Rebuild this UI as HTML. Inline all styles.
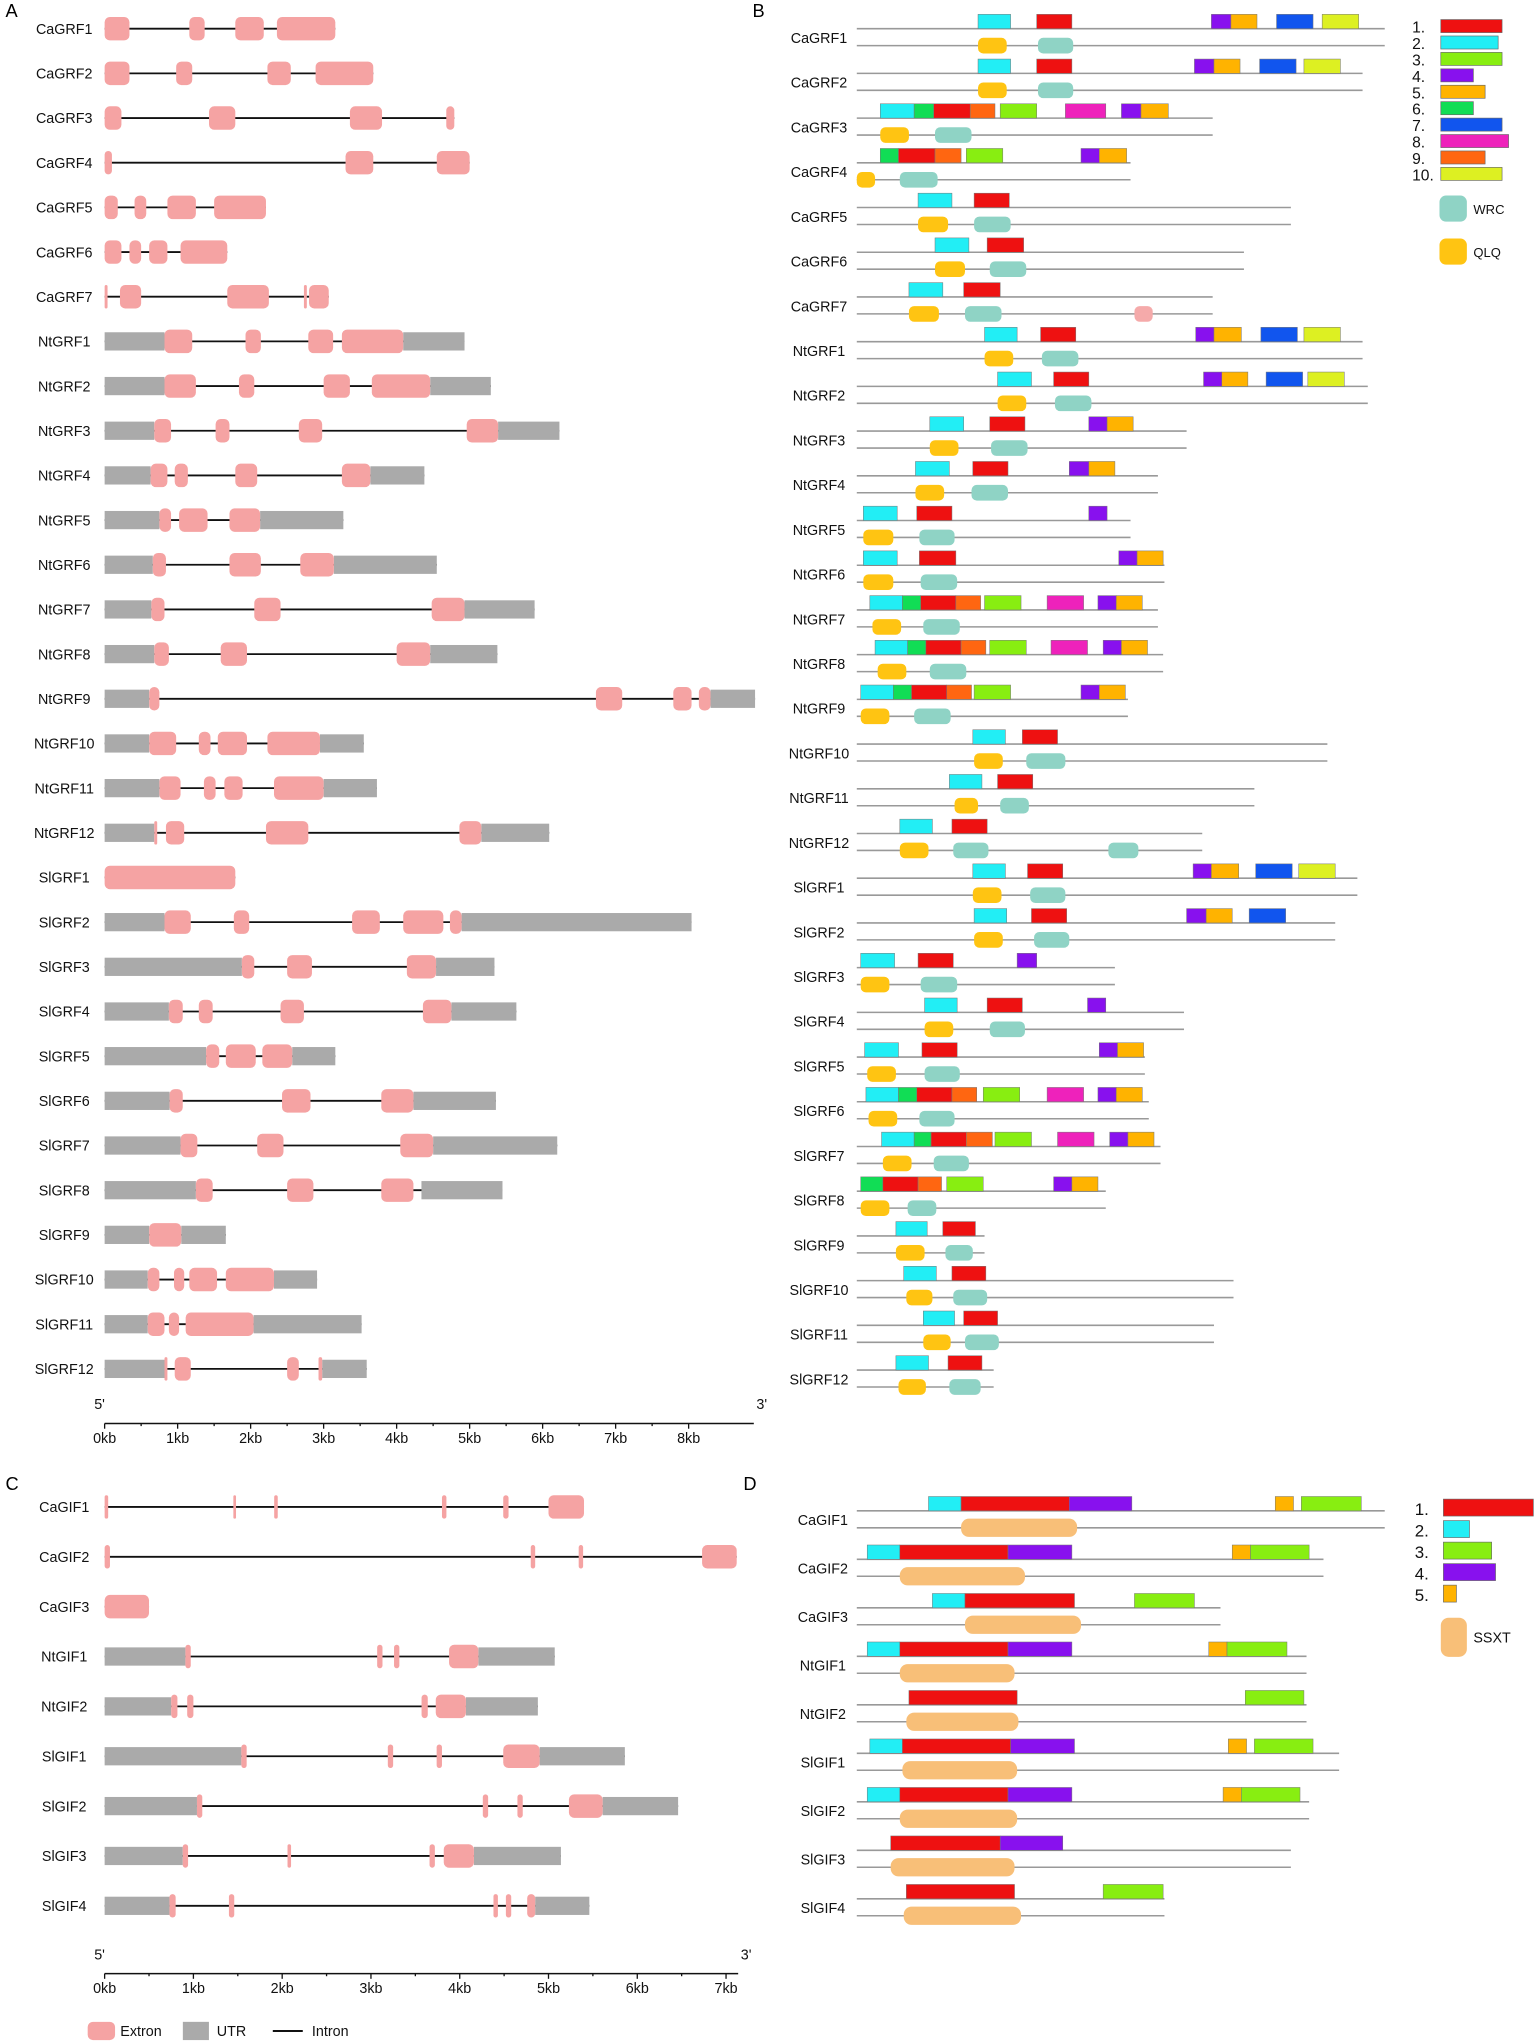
<!DOCTYPE html>
<html><head><meta charset="utf-8"><style>
html,body{margin:0;padding:0;background:#fff;}
svg{display:block;font-family:"Liberation Sans",Arial,sans-serif;}
</style></head><body>
<svg id="fig" width="1535" height="2044" viewBox="0 0 1177 1568" xmlns="http://www.w3.org/2000/svg">
<rect x="0" y="0" width="1177" height="1568" fill="#fff"/>
<text x="4" y="13" font-size="14">A</text>
<text x="577" y="13" font-size="14">B</text>
<text x="4" y="1143" font-size="14">C</text>
<text x="570" y="1143" font-size="14">D</text>
</svg>
<script>
const grfNames=["CaGRF1","CaGRF2","CaGRF3","CaGRF4","CaGRF5","CaGRF6","CaGRF7","NtGRF1","NtGRF2","NtGRF3","NtGRF4","NtGRF5","NtGRF6","NtGRF7","NtGRF8","NtGRF9","NtGRF10","NtGRF11","NtGRF12","SlGRF1","SlGRF2","SlGRF3","SlGRF4","SlGRF5","SlGRF6","SlGRF7","SlGRF8","SlGRF9","SlGRF10","SlGRF11","SlGRF12"];
const grfUtr=[[],[],[],[],[],[],[],
[[0,0.82],[4.09,4.93]],[[0,0.82],[4.46,5.29]],[[0,0.68],[5.39,6.23]],[[0,0.63],[3.64,4.38]],[[0,0.75],[2.13,3.27]],[[0,0.66],[3.14,4.55]],[[0,0.64],[4.93,5.89]],[[0,0.68],[4.46,5.38]],[[0,0.61],[8.3,8.91]],[[0,0.61],[2.95,3.55]],[[0,0.75],[3.0,3.73]],[[0,0.68],[5.16,6.09]],
[],[[0,0.82],[4.89,8.04]],[[0,1.88],[4.54,5.34]],[[0,0.88],[4.75,5.64]],[[0,1.39],[2.57,3.16]],[[0,0.89],[4.23,5.36]],[[0,1.04],[4.5,6.2]],[[0,1.25],[4.34,5.45]],[[0,0.61],[1.05,1.66]],[[0,0.59],[2.32,2.91]],[[0,0.59],[2.04,3.52]],[[0,0.82],[2.98,3.59]]];
const grfExon=[
[[0,0.34],[1.16,1.37],[1.79,2.18],[2.36,3.16]],
[[0,0.34],[0.98,1.2],[2.23,2.55],[2.89,3.68]],
[[0,0.23],[1.43,1.79],[3.36,3.8],[4.68,4.79]],
[[0,0.1],[3.3,3.68],[4.55,5.0]],
[[0,0.18],[0.41,0.57],[0.86,1.25],[1.5,2.21]],
[[0,0.23],[0.34,0.5],[0.61,0.86],[1.04,1.68]],
[[0,0.04],[0.21,0.5],[1.68,2.25],[2.73,2.77],[2.8,3.07]],
[[0.82,1.2],[1.93,2.14],[2.79,3.13],[3.25,4.09]],
[[0.82,1.25],[1.84,2.05],[3.0,3.36],[3.66,4.46]],
[[0.68,0.91],[1.52,1.71],[2.66,2.98],[4.96,5.39]],
[[0.63,0.86],[0.96,1.14],[1.79,2.09],[3.25,3.64]],
[[0.75,0.91],[1.02,1.41],[1.71,2.13]],
[[0.66,0.84],[1.71,2.14],[2.68,3.14]],
[[0.64,0.82],[2.05,2.41],[4.48,4.93]],
[[0.68,0.88],[1.59,1.95],[4.0,4.46]],
[[0.61,0.75],[6.73,7.09],[7.79,8.04],[8.14,8.3]],
[[0.61,0.98],[1.29,1.45],[1.55,1.95],[2.23,2.95]],
[[0.75,1.04],[1.36,1.52],[1.64,1.89],[2.32,3.0]],
[[0.68,0.72],[0.84,1.09],[2.21,2.79],[4.86,5.16]],
[[0,1.79]],
[[0.82,1.18],[1.77,1.98],[3.39,3.77],[4.09,4.64],[4.73,4.89]],
[[1.88,2.05],[2.5,2.84],[4.14,4.54]],
[[0.88,1.07],[1.29,1.48],[2.41,2.73],[4.36,4.75]],
[[1.39,1.57],[1.66,2.07],[2.16,2.57]],
[[0.89,1.07],[2.43,2.82],[3.79,4.23]],
[[1.04,1.27],[2.09,2.45],[4.05,4.5]],
[[1.25,1.48],[2.5,2.86],[3.79,4.23]],
[[0.61,1.05]],
[[0.59,0.75],[0.95,1.09],[1.16,1.54],[1.66,2.32]],
[[0.59,0.82],[0.88,1.02],[1.11,2.04]],
[[0.82,0.86],[0.96,1.18],[2.5,2.66],[2.93,2.98]]];
const axisATicks=[0,1,2,3,4,5,6,7,8];

const gifNames=["CaGIF1","CaGIF2","CaGIF3","NtGIF1","NtGIF2","SlGIF1","SlGIF2","SlGIF3","SlGIF4"];
const gifUtr=[[],[],[],[[0,0.91],[4.21,5.07]],[[0,0.75],[4.07,4.88]],[[0,1.54],[4.9,5.86]],[[0,1.04],[5.61,6.46]],[[0,0.88],[4.16,5.14]],[[0,0.73],[4.85,5.46]]];
const gifExon=[
[[0,0.04],[1.45,1.48],[1.91,1.95],[3.8,3.85],[4.49,4.55],[5.0,5.4]],
[[0,0.06],[4.8,4.85],[5.34,5.39],[6.73,7.12]],
[[0,0.5]],
[[0.91,0.97],[3.07,3.13],[3.26,3.32],[3.88,4.21]],
[[0.75,0.82],[0.93,1.0],[3.57,3.64],[3.73,4.07]],
[[1.54,1.6],[3.19,3.25],[3.74,3.8],[4.49,4.9]],
[[1.04,1.1],[4.26,4.32],[4.65,4.71],[5.23,5.61]],
[[0.88,0.94],[2.06,2.1],[3.66,3.72],[3.82,4.16]],
[[0.73,0.8],[1.4,1.46],[4.38,4.43],[4.52,4.58],[4.76,4.85]]];
const axisCTicks=[0,1,2,3,4,5,6,7];

const grfLen=[405,388,273,210,333,297,273,388,392,253,231,210,236,231,235,208,361,305,265,384,367,198,251,221,224,233,191,98,289,274,105];
const grfMotifs=[
[[2,93,118],[1,138,165],[4,272,287],[5,287,307],[7,322,350],[10,357,385]],
[[2,93,118],[1,138,165],[4,259,274],[5,274,294],[7,309,337],[10,343,371]],
[[2,18,44],[6,44,59],[1,59,87],[9,87,106],[3,110,138],[8,160,191],[4,203,218],[5,218,239]],
[[6,18,32],[1,32,60],[9,60,80],[3,84,112],[4,172,186],[5,186,207]],
[[2,47,73],[1,90,117]],
[[2,60,86],[1,100,128]],
[[2,40,66],[1,82,110]],
[[2,98,123],[1,141,168],[4,260,274],[5,274,295],[7,310,338],[10,343,371]],
[[2,108,134],[1,151,178],[4,266,280],[5,280,300],[7,314,342],[10,346,374]],
[[2,56,82],[1,102,129],[4,178,192],[5,192,212]],
[[2,45,71],[1,89,116],[4,163,178],[5,178,198]],
[[2,5,31],[1,46,73],[4,178,192]],
[[2,5,31],[1,48,76],[4,201,215],[5,215,235]],
[[2,10,35],[6,35,49],[1,49,76],[9,76,95],[3,98,126],[8,146,174],[4,185,199],[5,199,219]],
[[2,14,39],[6,39,53],[1,53,80],[9,80,99],[3,102,130],[8,149,177],[4,189,203],[5,203,223]],
[[2,3,28],[6,28,42],[1,42,69],[9,69,88],[3,90,118],[4,172,186],[5,186,206]],
[[2,89,114],[1,127,154]],
[[2,71,96],[1,108,135]],
[[2,33,58],[1,73,100]],
[[2,89,114],[1,131,158],[4,258,272],[5,272,293],[7,306,334],[10,339,367]],
[[2,90,115],[1,134,161],[4,253,268],[5,268,288],[7,301,329]],
[[2,3,29],[1,47,74],[4,123,138]],
[[2,52,77],[1,100,127],[4,177,191]],
[[2,6,32],[1,50,77],[4,186,200],[5,200,220]],
[[2,7,32],[6,32,46],[1,46,73],[9,73,92],[3,97,125],[8,146,174],[4,185,199],[5,199,219]],
[[2,19,44],[6,44,57],[1,57,84],[9,84,104],[3,106,134],[8,154,182],[4,194,208],[5,208,228]],
[[6,3,20],[1,20,47],[9,47,65],[3,69,97],[4,151,165],[5,165,185]],
[[2,30,54],[1,66,91]],
[[2,36,61],[1,73,99]],
[[2,51,75],[1,82,108]],
[[2,30,55],[1,70,96]]];
const grfDomains=[
[["Q",93,115],["W",139,166]],[["Q",93,115],["W",139,166]],[["Q",18,40],["W",60,88]],[["Q",0,14],["W",33,62]],
[["Q",47,70],["W",90,118]],[["Q",60,83],["W",102,130]],[["Q",40,63],["W",83,111],["P",213,227]],
[["Q",98,120],["W",142,170]],[["Q",108,130],["W",152,180]],[["Q",56,78],["W",103,131]],[["Q",45,67],["W",88,116]],
[["Q",5,28],["W",48,75]],[["Q",5,28],["W",49,77]],[["Q",12,34],["W",51,79]],[["Q",16,38],["W",56,84]],
[["Q",3,25],["W",44,72]],[["Q",90,112],["W",130,160]],[["Q",75,93],["W",110,132]],[["Q",33,55],["W",74,101],["W",193,216]],
[["Q",89,111],["W",133,160]],[["Q",90,112],["W",136,163]],[["Q",3,25],["W",49,77]],[["Q",52,74],["W",102,129]],
[["Q",8,30],["W",52,79]],[["Q",9,31],["W",48,75]],[["Q",20,42],["W",59,86]],[["Q",3,25],["W",39,61]],
[["Q",30,52],["W",68,89]],[["Q",38,58],["W",74,100]],[["Q",51,72],["W",83,109]],[["Q",32,53],["W",71,95]]];
const grfLegendWidths=[47,44,47,25,34,25,47,52,34,47];

const gifLen=[405,358,279,345,345,370,347,333,236];
const gifMotifs=[
[[2,55,80],[1,80,163],[4,163,211],[5,321,335],[3,341,387]],
[[2,8,33],[1,33,116],[4,116,165],[5,288,302],[3,302,347]],
[[2,58,83],[1,83,167],[3,213,259]],
[[2,8,33],[1,33,116],[4,116,165],[5,270,284],[3,284,330]],
[[1,40,123],[3,298,343]],
[[2,10,35],[1,35,118],[4,118,167],[5,285,299],[3,305,350]],
[[2,8,33],[1,33,116],[4,116,165],[5,281,295],[3,295,340]],
[[1,26,110],[4,110,158]],
[[1,38,121],[3,189,235]]];
const gifSsxt=[[80,169],[33,129],[83,172],[33,121],[38,124],[35,123],[33,123],[26,121],[36,126]];
const gifLegendWidths=[69,20,37,40,10];

const motifColors=["#ee1111","#22eef5","#88ee11","#8811ee","#ffb300","#11dd55","#1155ee","#ee22bb","#ff6611","#ddf022"];
const NS="http://www.w3.org/2000/svg";
const svg=document.getElementById('fig');
function mk(tag,attrs,parent){const e=document.createElementNS(NS,tag);for(const k in attrs)e.setAttribute(k,attrs[k]);(parent||svg).appendChild(e);return e;}
function txt(x,y,s,size,anchor,parent){const t=mk('text',{x:x,y:y,'font-size':size,'text-anchor':anchor||'start',fill:'#111'},parent);t.textContent=s;return t;}

function drawStructure(names,utrs,exons,x0,pxPerKb,y0,dy,labelX,axisY,ticks,axisEnd,prefix){
  const sx=kb=>x0+kb*pxPerKb;
  names.forEach((n,i)=>{
    const y=y0+i*dy;
    const g=mk('g',{});
    
    
    const lab=txt(labelX,y+4,n,11,'middle',g);
    
    
    const all=utrs[i].concat(exons[i]);
    const lo=Math.min(...all.map(a=>a[0])),hi=Math.max(...all.map(a=>a[1]));
    const ln=mk('line',{x1:sx(lo),x2:sx(hi),y1:y,y2:y,stroke:'#111','stroke-width':1.4},g);
    
    
    utrs[i].forEach(u=>{const r=mk('rect',{x:sx(u[0]),y:y-7,width:sx(u[1])-sx(u[0]),height:14,fill:'#aaaaaa'},g);
      
      });
    exons[i].forEach(e=>{const w=Math.max(1.5,sx(e[1])-sx(e[0]));const r=mk('rect',{x:sx(e[0]),y:y-9,width:w,height:18,rx:Math.min(4,w/2),fill:'#f5a3a3'},g);
      
      });
  });
  const ax=mk('g',{});
  
  
  mk('line',{x1:x0,x2:axisEnd,y1:axisY,y2:axisY,stroke:'#111','stroke-width':1.2},ax);
  ticks.forEach(t=>{mk('line',{x1:sx(t),x2:sx(t),y1:axisY,y2:axisY+4,stroke:'#111'},ax);txt(sx(t),axisY+15,t+'kb',11,'middle',ax);});
  for(let t=0;t<ticks[ticks.length-1];t++){const m=sx(t+0.5);mk('line',{x1:m,x2:m,y1:axisY,y2:axisY+2,stroke:'#111'},ax);}
  txt(x0-8,axisY-11,"5'",11,'start',ax);
  txt(axisEnd+2,axisY-11,"3'",11,'start',ax);
}
drawStructure(grfNames,grfUtr,grfExon,80,56,22,34.27,49,1092,axisATicks,578,'panel-a');
drawStructure(gifNames,gifUtr,gifExon,80,68.1,1156,38.25,49,1514,axisCTicks,566,'panel-c');

function drawMotifs(names,lens,motifs,domFn,x0,y0,dy,labelX,prefix){
  const sx=p=>x0+p;
  names.forEach((n,i)=>{
    const y=y0+i*dy;
    const g=mk('g',{});
    
    
    const lab=txt(labelX,y+4,n,11,'middle',g);
    
    
    const ty=y-7,by=y+6;
    mk('line',{x1:sx(0),x2:sx(lens[i]),y1:ty,y2:ty,stroke:'#999','stroke-width':1.2},g);
    mk('line',{x1:sx(0),x2:sx(lens[i]),y1:by,y2:by,stroke:'#999','stroke-width':1.2},g);
    motifs[i].forEach(m=>{const r=mk('rect',{x:sx(m[1]),y:ty-11,width:m[2]-m[1],height:11,fill:motifColors[m[0]-1],stroke:'#777','stroke-width':0.4},g);
      
      });
    domFn(i,g,sx,by);
  });
}
const domCol={Q:'#ffc412',W:'#8fd3c5',P:'#f5aaaa'};
drawMotifs(grfNames,grfLen,grfMotifs,(i,g,sx,by)=>{
  grfDomains[i].forEach(d=>{const r=mk('rect',{x:sx(d[1]),y:by-6,width:d[2]-d[1],height:12,rx:4,fill:domCol[d[0]]},g);
    
    });
},657,29,34.3,628,'panel-b');
drawMotifs(gifNames,gifLen,gifMotifs,(i,g,sx,by)=>{
  const d=gifSsxt[i];const r=mk('rect',{x:sx(d[0]),y:by-7,width:d[1]-d[0],height:14,rx:6,fill:'#f8bf78'},g);
  
  
},657,1166,37.2,631,'panel-d');

const lb=mk('g',{});


grfLegendWidths.forEach((w,i)=>{const y=20+i*12.6;
  txt(1083,y+5,(i+1)+'.',12,'start',lb);
  const r=mk('rect',{x:1105,y:y-5,width:w,height:10,fill:motifColors[i],stroke:'#666','stroke-width':0.5},lb);
  
  });
mk('rect',{x:1104,y:150,width:21,height:20,rx:5,fill:domCol.W},lb);txt(1130,164,'WRC',10,'start',lb);
mk('rect',{x:1104,y:183,width:21,height:20,rx:5,fill:domCol.Q},lb);txt(1130,197,'QLQ',10,'start',lb);

const ld=mk('g',{});


gifLegendWidths.forEach((w,i)=>{const y=1156+i*16.5;
  txt(1085,y+6,(i+1)+'.',13,'start',ld);
  const r=mk('rect',{x:1107,y:y-6,width:w,height:13,fill:motifColors[i],stroke:'#666','stroke-width':0.5},ld);
  
  });
mk('rect',{x:1105,y:1241,width:20,height:30,rx:6,fill:'#f8bf78'},ld);txt(1130,1260,'SSXT',11,'start',ld);

const lc=mk('g',{});


mk('rect',{x:67,y:1551,width:21,height:14,rx:4,fill:'#f5a3a3'},lc);txt(92,1562,'Extron',11,'start',lc);
mk('rect',{x:140,y:1551,width:20,height:14,fill:'#aaaaaa'},lc);txt(166,1562,'UTR',11,'start',lc);
mk('line',{x1:209,x2:232,y1:1558,y2:1558,stroke:'#111','stroke-width':1.5},lc);txt(239,1562,'Intron',11,'start',lc);
</script>
</body></html>
